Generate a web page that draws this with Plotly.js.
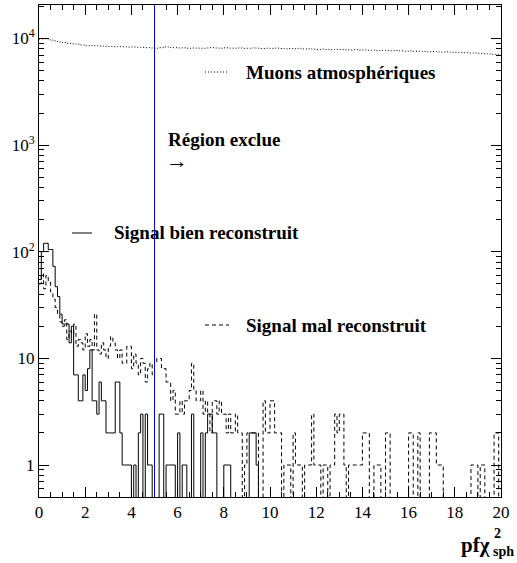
<!DOCTYPE html>
<html><head><meta charset="utf-8">
<script src="https://cdn.plot.ly/plotly-3.0.1.min.js"></script>
<style>html,body{margin:0;padding:0;background:#fff}#chart{width:517px;height:563px}</style>
</head><body><div id="chart"></div>
<script>
// ---- data ----
const binWidthSignal = 0.1;
const binWidthMuons = 0.2;
const cutValue = 5;

const muons = [
  9900,9950,9700,9500,9300,9150,9000,8900,8850,8700,
  8550,8600,8550,8500,8450,8400,8380,8400,8350,8300,
  8320,8280,8250,8200,8150,8100,8200,8350,8250,8200,
  8150,8180,8100,8150,8120,8100,8150,8200,8150,8100,
  8180,8120,8100,8150,8080,8100,8150,8120,8050,8100,
  8080,8120,8050,8000,8050,8000,8080,7980,8020,7950,
  7900,7950,7900,7850,7900,7880,7850,7800,7850,7780,
  7800,7750,7780,7700,7750,7700,7680,7720,7650,7600,
  7650,7580,7600,7550,7500,7550,7480,7450,7500,7420,
  7400,7380,7350,7300,7320,7250,7200,7150,7100,7050
];

const signalBien = [
  55,100,120,120,105,105,73,47,38,26,
  21,21,21,14,20,7,7,4,4,7,
  5,8,12,4,4,3,6,4,4,2,
  2,2,2,6,6,2,1,1,1,1,
  0,1,0,2,3,0,3,1,1,0,
  0,0,3,3,0,1,1,1,1,0,
  2,0,1,1,0,0,3,0,0,0,
  2,0,2,3,3,2,2,0,0,0,
  1,1,1,0,0,0,0,0,0,0,
  0,2,2,2,1,0,0,0,0,0,
  0,0,0,0,0,0,0,0,0,0,
  0,0,0,0,0,0,0,0,0,0,
  0,0,0,0,0,0,0,0,0,0,
  0,0,0,0,0,0,0,0,0,0,
  0,0,0,0,0,0,0,0,0,0,
  0,0,0,0,0,0,0,0,0,0,
  0,0,0,0,0,0,0,0,0,0,
  0,0,0,0,0,0,0,0,0,0,
  0,0,0,0,0,0,0,0,0,0,
  0,0,0,0,0,0,0,0,0,0
];

const signalMal = [
  50,62,45,60,52,42,36,30,26,22,
  20,23,15,18,17,21,13,15,14,12,
  17,13,15,12,26,12,11,14,12,10,
  13,16,14,12,10,12,9,9,13,13,
  8,11,9,7,10,9,6,8,9,7,
  9,10,10,8,8,6,6,4,5,3,
  3,4,3,4,4,5,9,5,4,4,
  5,3,4,3,2,4,4,3,4,3,
  3,2,3,2,2,3,2,2,0,1,
  2,2,2,2,2,0,0,4,2,2,
  4,4,2,2,2,0,1,1,1,0,
  2,1,1,1,0,1,1,1,3,1,
  1,1,0,1,1,0,1,1,3,2,
  3,3,1,0,1,1,1,1,1,1,
  2,2,2,0,0,1,1,1,0,0,
  2,2,0,0,0,0,0,0,0,0,
  2,2,0,0,2,0,0,0,0,2,
  2,2,1,1,1,0,0,0,0,0,
  0,0,0,0,0,0,0,1,1,1,
  0,1,1,0,0,0,0,2,2,0
];

const xTickVals = [0,2,4,6,8,10,12,14,16,18,20];
const yTickVals = [1,10,100,1000,10000];
const yTickText = ['1','10','10<sup>2</sup>','10<sup>3</sup>','10<sup>4</sup>'];

const labelMuons = '<b>Muons atmosphériques</b>';
const labelBien = '<b>Signal bien reconstruit</b>';
const labelMal = '<b>Signal mal reconstruit</b>';
const labelRegion = '<b>Région exclue</b>';

// ---- helpers ----
const EMPTY = 1e-3; // empty bins drop below the frame like ROOT
function steps(values, w) {
  const xs = [], ys = [];
  values.forEach((v, i) => { xs.push(i * w); ys.push(v > 0 ? v : EMPTY); });
  xs.push(values.length * w);
  ys.push(values[values.length - 1] > 0 ? values[values.length - 1] : EMPTY);
  return {x: xs, y: ys};
}

const W = 517, H = 563, L = 39, R = 501, T = 5, B = 497;
const px = p => (p - L) / (R - L);
const py = p => (B - p) / (B - T);

const mu = steps(muons, binWidthMuons);
const sb = steps(signalBien, binWidthSignal);
const sm = steps(signalMal, binWidthSignal);

const traces = [
  {x: mu.x, y: mu.y, type: 'scatter', mode: 'lines', line: {shape: 'hv', color: '#000', width: 1, dash: '1px,2px'}, name: 'Muons atmosphériques', hoverinfo: 'skip'},
  {x: sb.x, y: sb.y, type: 'scatter', mode: 'lines', line: {shape: 'hv', color: '#000', width: 1}, name: 'Signal bien reconstruit', hoverinfo: 'skip'},
  {x: sm.x, y: sm.y, type: 'scatter', mode: 'lines', line: {shape: 'hv', color: '#000', width: 1, dash: '4px,3px'}, name: 'Signal mal reconstruit', hoverinfo: 'skip'}
];

const minorY = [];
for (let d = -1; d <= 4; d++) for (let m = 2; m <= 9; m++) minorY.push(m * Math.pow(10, d));

const serif = 'Liberation Serif';
const legFont = {family: serif, size: 19, color: '#000'};

const annotations = [
  {xref: 'paper', yref: 'paper', x: px(244), y: py(72), xanchor: 'left', yanchor: 'middle', text: labelMuons, showarrow: false, font: legFont},
  {xref: 'paper', yref: 'paper', x: px(112), y: py(233), xanchor: 'left', yanchor: 'middle', text: labelBien, showarrow: false, font: legFont},
  {xref: 'paper', yref: 'paper', x: px(244), y: py(325), xanchor: 'left', yanchor: 'middle', text: labelMal, showarrow: false, font: legFont},
  {xref: 'paper', yref: 'paper', x: px(166), y: py(139), xanchor: 'left', yanchor: 'middle', text: labelRegion, showarrow: false, font: legFont},
  {xref: 'paper', yref: 'paper', x: px(164), y: py(160), xanchor: 'left', yanchor: 'middle', text: '→', showarrow: false, font: {family: serif, size: 22, color: '#000'}},
  {xref: 'paper', yref: 'paper', x: px(459), y: py(545), xanchor: 'left', yanchor: 'middle', text: '<b>pfχ</b>', showarrow: false, font: {family: serif, size: 21, color: '#000'}},
  {xref: 'paper', yref: 'paper', x: px(492), y: py(533), xanchor: 'left', yanchor: 'middle', text: '<b>2</b>', showarrow: false, font: {family: serif, size: 14, color: '#000'}},
  {xref: 'paper', yref: 'paper', x: px(491), y: py(551), xanchor: 'left', yanchor: 'middle', text: '<b>sph</b>', showarrow: false, font: {family: serif, size: 14, color: '#000'}}
];

const shapes = [
  {type: 'line', xref: 'x', yref: 'paper', x0: cutValue, x1: cutValue, y0: 0, y1: 1, line: {color: '#0000ff', width: 1}},
  {type: 'line', xref: 'paper', yref: 'paper', x0: px(205), x1: px(229), y0: py(72), y1: py(72), line: {color: '#000', width: 1, dash: '1px,2px'}},
  {type: 'line', xref: 'paper', yref: 'paper', x0: px(72), x1: px(92), y0: py(233), y1: py(233), line: {color: '#000', width: 1}},
  {type: 'line', xref: 'paper', yref: 'paper', x0: px(205), x1: px(229), y0: py(325), y1: py(325), line: {color: '#000', width: 1, dash: '4px,3px'}}
];

const layout = {
  width: W, height: H,
  margin: {l: L, r: W - R, t: T, b: H - B, pad: 0},
  paper_bgcolor: '#fff', plot_bgcolor: '#fff',
  showlegend: false,
  font: {family: serif, size: 15, color: '#000'},
  xaxis: {
    range: [0, 20], tickvals: xTickVals, ticks: 'inside', ticklen: 10, tickcolor: '#000',
    showline: true, linecolor: '#000', linewidth: 1, mirror: 'ticks', showgrid: false, zeroline: false,
    tickfont: {family: serif, size: 17, color: '#000'},
    minor: {dtick: 0.5, ticks: 'inside', ticklen: 5, tickcolor: '#000', showgrid: false}
  },
  yaxis: {
    type: 'log', range: [-0.30, 4.314], tickvals: yTickVals, ticktext: yTickText,
    ticks: 'inside', ticklen: 10, tickcolor: '#000',
    showline: true, linecolor: '#000', linewidth: 1, mirror: 'ticks', showgrid: false, zeroline: false,
    tickfont: {family: serif, size: 17, color: '#000'},
    minor: {tickvals: minorY, ticks: 'inside', ticklen: 5, tickcolor: '#000', showgrid: false}
  },
  annotations: annotations,
  shapes: shapes
};

Plotly.newPlot('chart', traces, layout, {staticPlot: true, displayModeBar: false});
</script>
</body></html>
